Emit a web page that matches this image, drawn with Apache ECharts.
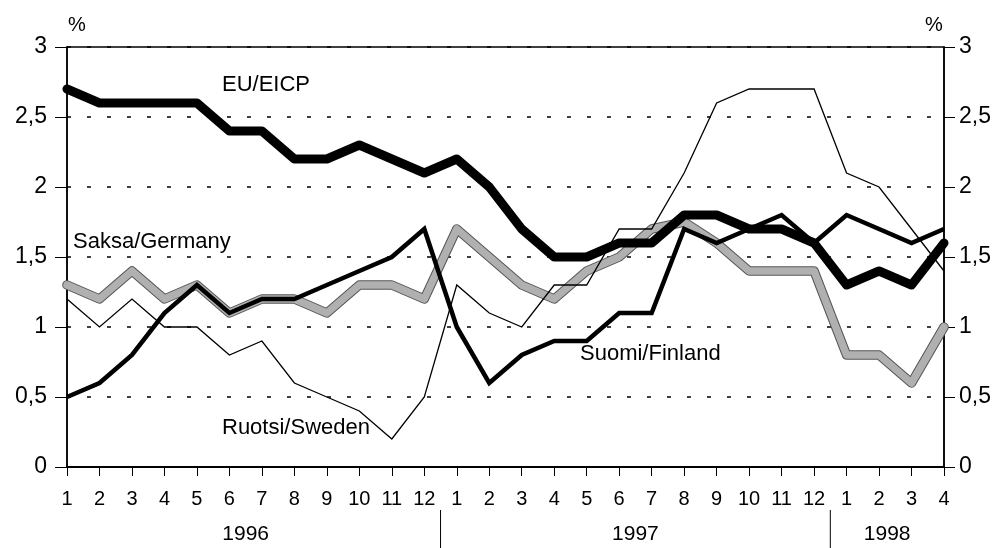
<!DOCTYPE html>
<html>
<head>
<meta charset="utf-8">
<script src="https://cdn.jsdelivr.net/npm/echarts@6/dist/echarts.min.js"></script>
<style>
html,body{margin:0;padding:0;background:#fff;}
#chart{width:1002px;height:548px;}
</style>
</head>
<body>
<div id="chart"></div>
<script>
// ---- data ----
var months = ['1','2','3','4','5','6','7','8','9','10','11','12',
              '1','2','3','4','5','6','7','8','9','10','11','12',
              '1','2','3','4'];
var years = ['1996','1997','1998'];
var yearStartIdx = [0, 12, 24];
var yearEndIdx = [11, 23, 27];
var yTicks = [0, 0.5, 1, 1.5, 2, 2.5, 3];

var euEicp  = [2.7,2.6,2.6,2.6,2.6,2.4,2.4,2.2,2.2,2.3,2.2,2.1,
               2.2,2.0,1.7,1.5,1.5,1.6,1.6,1.8,1.8,1.7,1.7,1.6,
               1.3,1.4,1.3,1.6];
var finland = [0.5,0.6,0.8,1.1,1.3,1.1,1.2,1.2,1.3,1.4,1.5,1.7,
               1.0,0.6,0.8,0.9,0.9,1.1,1.1,1.7,1.6,1.7,1.8,1.6,
               1.8,1.7,1.6,1.7];
var germany = [1.3,1.2,1.4,1.2,1.3,1.1,1.2,1.2,1.1,1.3,1.3,1.2,
               1.7,1.5,1.3,1.2,1.4,1.5,1.7,1.75,1.6,1.4,1.4,1.4,
               0.8,0.8,0.6,1.0];
var sweden  = [1.2,1.0,1.2,1.0,1.0,0.8,0.9,0.6,0.5,0.4,0.2,0.5,
               1.3,1.1,1.0,1.3,1.3,1.7,1.7,2.1,2.6,2.7,2.7,2.7,
               2.1,2.0,1.7,1.4];

var catKeys = months.map(function(m, i){ return i + '_' + m; });

var FONT = '"Liberation Sans", Arial, sans-serif';
var chart = echarts.init(document.getElementById('chart'), null, {renderer:'canvas'});

function fmtY(v){ return String(v).replace('.', ','); }

var option = {
  backgroundColor: '#ffffff',
  animation: false,
  grid: {left: 67, right: 58, top: 47, bottom: 81, show: true,
         borderColor: '#000', borderWidth: 1.5, backgroundColor: 'transparent'},
  xAxis: {
    type: 'category', data: catKeys, boundaryGap: false,
    axisLine: {show: true, lineStyle: {color: '#000', width: 2}},
    axisTick: {show: true, inside: false, length: 9, interval: 0, lineStyle: {color: '#000', width: 1}},
    axisLabel: {interval: 0, margin: 22, color: '#000', fontSize: 20, fontFamily: FONT,
                formatter: function(v){ return v.split('_')[1]; }},
    splitLine: {show: false}
  },
  yAxis: [{
    type: 'value', min: 0, max: 3, interval: 0.5, position: 'left',
    axisLine: {show: true, lineStyle: {color: '#000', width: 1.5}},
    axisTick: {show: true, inside: false, length: 12, lineStyle: {color: '#000', width: 1}},
    axisLabel: {margin: 20, color: '#000', fontSize: 23, fontFamily: FONT, formatter: fmtY},
    splitLine: {show: true, lineStyle: {color: '#000', width: 1.5, type: [4, 16]}}
  }, {
    type: 'value', min: 0, max: 3, interval: 0.5, position: 'right',
    axisLine: {show: true, lineStyle: {color: '#000', width: 1.5}},
    axisTick: {show: true, inside: false, length: 11, lineStyle: {color: '#000', width: 1}},
    axisLabel: {margin: 15, color: '#000', fontSize: 23, fontFamily: FONT, formatter: fmtY},
    splitLine: {show: false}
  }],
  series: [
    {name: 'Saksa/Germany outline', type: 'line', data: germany, symbol: 'none', z: 2,
     lineStyle: {color: '#555', width: 9.5, cap: 'round', join: 'round'}, silent: true},
    {name: 'Saksa/Germany', type: 'line', data: germany, symbol: 'none', z: 3,
     lineStyle: {color: '#b0b0b0', width: 7.5, cap: 'round', join: 'round'}},
    {name: 'Ruotsi/Sweden', type: 'line', data: sweden, symbol: 'none', z: 4,
     lineStyle: {color: '#000', width: 1.3, join: 'miter'}},
    {name: 'Suomi/Finland', type: 'line', data: finland, symbol: 'none', z: 5,
     lineStyle: {color: '#000', width: 4.5, join: 'miter'}},
    {name: 'EU/EICP', type: 'line', data: euEicp, symbol: 'none', z: 6,
     lineStyle: {color: '#000', width: 9, cap: 'round', join: 'round'}}
  ]
};
chart.setOption(option);

// year labels and separators positioned from the axis scale
var gr = [];
var baseY = chart.convertToPixel({yAxisIndex: 0}, 0);
var rightX = chart.convertToPixel({xAxisIndex: 0}, catKeys[catKeys.length - 1]);
var seps = [];
for (var k = 1; k < yearStartIdx.length; k++) {
  var a = chart.convertToPixel({xAxisIndex: 0}, catKeys[yearStartIdx[k] - 1]);
  var b = chart.convertToPixel({xAxisIndex: 0}, catKeys[yearStartIdx[k]]);
  var sx = (a + b) / 2;
  seps.push(sx);
  gr.push({type: 'line', shape: {x1: sx, y1: baseY + 43, x2: sx, y2: 548},
           style: {stroke: '#000', lineWidth: 1}});
}
for (var y = 0; y < years.length; y++) {
  var x1 = chart.convertToPixel({xAxisIndex: 0}, catKeys[yearStartIdx[y]]);
  var x2 = chart.convertToPixel({xAxisIndex: 0}, catKeys[yearEndIdx[y]]);
  var cx = (x1 + x2) / 2;
  if (y === years.length - 1) cx = (seps[seps.length - 1] + rightX) / 2;
  gr.push({type: 'text', x: cx, y: baseY + 67,
           style: {text: years[y], font: '21px ' + FONT, fill: '#000', textAlign: 'center', textVerticalAlign: 'middle'}});
}
// unit labels
gr.push({type: 'text', x: 77, y: 25, style: {text: '%', font: '20px ' + FONT, fill: '#000', textAlign: 'center', textVerticalAlign: 'middle'}});
gr.push({type: 'text', x: 934, y: 25, style: {text: '%', font: '20px ' + FONT, fill: '#000', textAlign: 'center', textVerticalAlign: 'middle'}});
// series name labels
gr.push({type: 'text', x: 222, y: 85, style: {text: 'EU/EICP', font: '22px ' + FONT, fill: '#000', textAlign: 'left', textVerticalAlign: 'middle'}});
gr.push({type: 'text', x: 73, y: 242, style: {text: 'Saksa/Germany', font: '22px ' + FONT, fill: '#000', textAlign: 'left', textVerticalAlign: 'middle'}});
gr.push({type: 'text', x: 222, y: 428, style: {text: 'Ruotsi/Sweden', font: '22px ' + FONT, fill: '#000', textAlign: 'left', textVerticalAlign: 'middle'}});
gr.push({type: 'text', x: 580, y: 354, style: {text: 'Suomi/Finland', font: '22px ' + FONT, fill: '#000', textAlign: 'left', textVerticalAlign: 'middle'}});

chart.setOption({graphic: {elements: gr}});
</script>
</body>
</html>
